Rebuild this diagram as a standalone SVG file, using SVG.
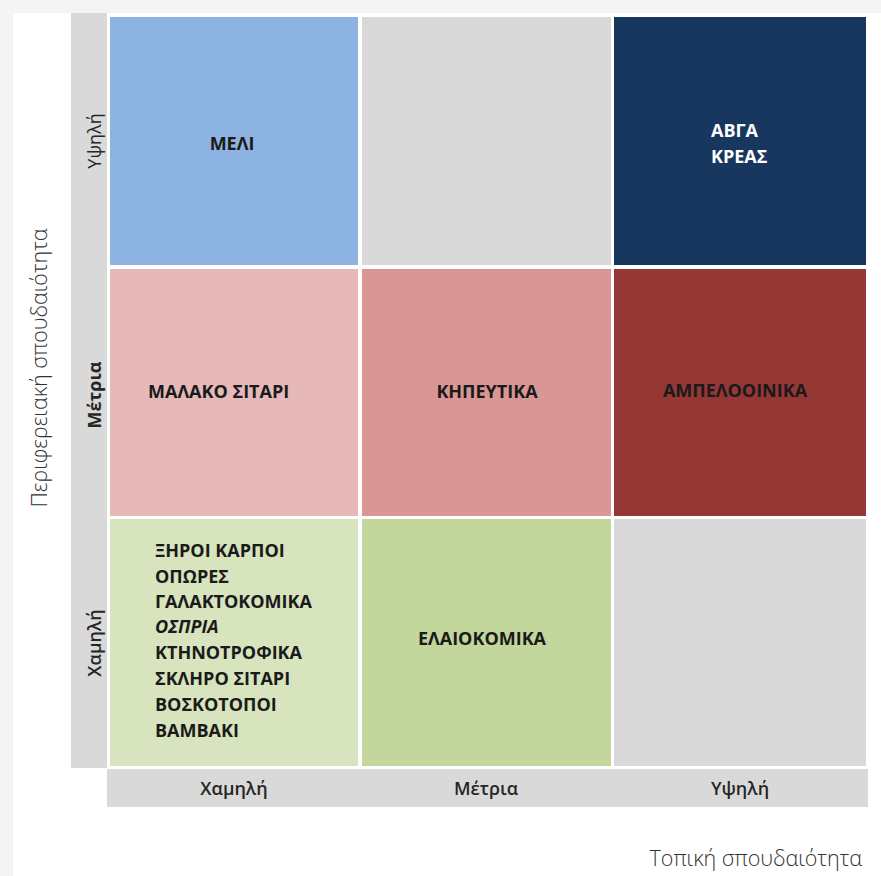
<svg xmlns="http://www.w3.org/2000/svg" width="881" height="876" viewBox="0 0 881 876">
<style>
.bar{fill:#d9d9d9}
.lbl{font-family:"Open Sans","Liberation Sans",sans-serif;font-weight:700;font-size:18px;fill:#1a1a1a}
.wl{fill:#ffffff}
.ax{font-family:"Open Sans","Liberation Sans",sans-serif;font-size:18px;fill:#262626;text-anchor:middle}
.title{font-family:"Open Sans","Liberation Sans",sans-serif;font-weight:300;font-size:21.5px;fill:#333333}
</style>
<rect x="0" y="0" width="881" height="876" fill="#f4f4f4"/>
<rect x="13" y="13" width="868" height="863" fill="#ffffff"/>
<g id="axes">
<rect class="bar" x="71" y="13" width="36" height="755"/>
<rect class="bar" x="107" y="769" width="761" height="38"/>
<text class="ax" font-weight="400" transform="translate(101,141) rotate(-90)">Υψηλή</text>
<text class="ax" font-weight="700" transform="translate(101,395) rotate(-90)">Μέτρια</text>
<text class="ax" font-weight="600" transform="translate(101,643) rotate(-90)">Χαμηλή</text>
<text class="ax" font-weight="600" x="234" y="795">Χαμηλή</text>
<text class="ax" font-weight="600" x="486" y="795">Μέτρια</text>
<text class="ax" font-weight="600" x="740" y="795">Υψηλή</text>
<text class="title" text-anchor="middle" transform="translate(47,368) rotate(-90)">Περιφερειακή σπουδαιότητα</text>
<text class="title" text-anchor="end" x="862" y="866">Τοπική σπουδαιότητα</text>
</g>
<g id="cell-high-low"><rect x="110" y="17" width="248" height="248" fill="#8db3e2"/><text class="lbl" x="232" y="150" text-anchor="middle" fill="#1f2a44">ΜΕΛΙ</text></g>
<g id="cell-high-mid"><rect x="362" y="17" width="249" height="248" fill="#d9d9d9"/></g>
<g id="cell-high-high"><rect x="614" y="17" width="252" height="248" fill="#17375e"/><text class="lbl wl" x="711" y="137">ΑΒΓΑ</text><text class="lbl wl" x="711" y="163">ΚΡΕΑΣ</text></g>
<g id="cell-mid-low"><rect x="110" y="269" width="248" height="247" fill="#e6b9b8"/><text class="lbl" x="148" y="398">ΜΑΛΑΚΟ ΣΙΤΑΡΙ</text></g>
<g id="cell-mid-mid"><rect x="362" y="269" width="249" height="247" fill="#d99694"/><text class="lbl" x="487" y="398" text-anchor="middle">ΚΗΠΕΥΤΙΚΑ</text></g>
<g id="cell-mid-high"><rect x="614" y="269" width="252" height="247" fill="#953735"/><text class="lbl" x="735" y="397" text-anchor="middle">ΑΜΠΕΛΟΟΙΝΙΚΑ</text></g>
<g id="cell-low-low"><rect x="110" y="519" width="248" height="247" fill="#d7e4bd"/>
<text class="lbl" x="155" y="557">ΞΗΡΟΙ ΚΑΡΠΟΙ</text>
<text class="lbl" x="155" y="583">ΟΠΩΡΕΣ</text>
<text class="lbl" x="155" y="608">ΓΑΛΑΚΤΟΚΟΜΙΚΑ</text>
<text class="lbl" x="155" y="633" font-style="italic">ΟΣΠΡΙΑ</text>
<text class="lbl" x="155" y="659">ΚΤΗΝΟΤΡΟΦΙΚΑ</text>
<text class="lbl" x="155" y="685">ΣΚΛΗΡΟ ΣΙΤΑΡΙ</text>
<text class="lbl" x="155" y="711">ΒΟΣΚΟΤΟΠΟΙ</text>
<text class="lbl" x="155" y="737">ΒΑΜΒΑΚΙ</text>
</g>
<g id="cell-low-mid"><rect x="362" y="519" width="249" height="247" fill="#c3d69b"/><text class="lbl" x="482" y="645" text-anchor="middle">ΕΛΑΙΟΚΟΜΙΚΑ</text></g>
<g id="cell-low-high"><rect x="614" y="519" width="252" height="247" fill="#d9d9d9"/></g>
<g id="connectors"></g>
</svg>
